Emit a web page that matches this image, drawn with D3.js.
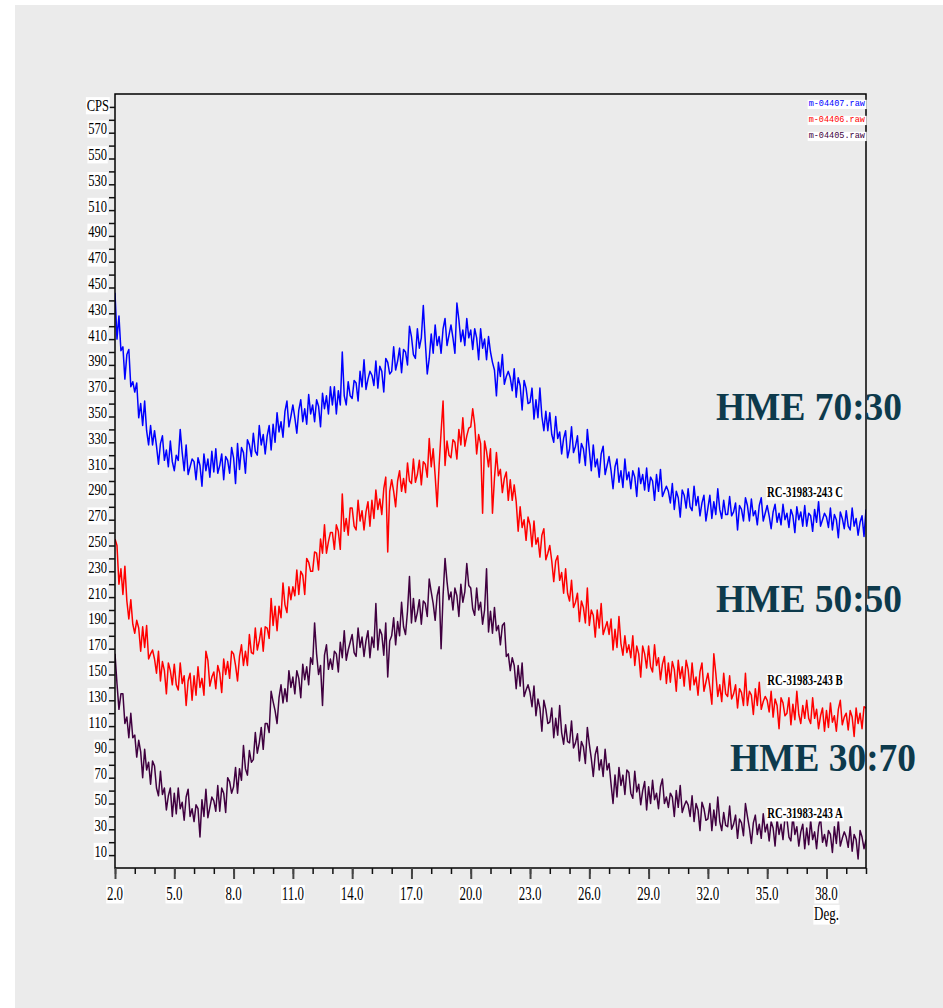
<!DOCTYPE html>
<html>
<head>
<meta charset="utf-8">
<script src="https://cdn.jsdelivr.net/npm/d3@7"></script>
<style>
  body { margin: 0; background: #fff; }
  svg { display: block; }
</style>
</head>
<body>
<svg id="chart" width="943" height="1008"></svg>
<script>

// scan: 2.0 .. 40.0 deg, 0.1 deg step
var degStart = 2.0
var degStep = 0.1

// m-04407.raw  (RC-31983-243 C)
var cpsC = [
  446,410,428,401,404,379,398,402,373,377, 369,376,349,360,343,362,339,328,343,328,
  339,327,313,329,335,316,324,311,331,315, 308,320,316,340,322,308,328,305,311,317,
  315,301,318,312,296,321,308,317,303,323, 307,325,306,312,321,301,319,316,306,326,
  318,298,329,309,326,322,306,332,328,319, 337,323,320,343,328,336,321,335,343,324,
  344,330,353,338,346,334,354,362,342,350, 359,349,337,355,363,346,356,344,367,352,
  359,346,363,358,342,368,356,366,352,373, 359,373,352,370,359,400,366,359,377,366,
  364,378,376,362,385,373,394,371,379,385, 382,374,393,372,389,385,369,395,392,383,
  385,404,386,393,403,384,402,400,390,420, 412,398,395,418,403,411,436,408,383,395,
  414,399,421,405,412,399,418,426,405,413, 421,411,399,438,425,408,417,405,426,411,
  417,402,418,411,394,418,403,410,394,412, 400,392,386,366,392,381,398,375,381,385,
  380,370,387,365,380,374,355,378,372,360, 361,372,348,363,349,372,350,339,354,339,
  353,336,330,350,333,338,321,333,339,318, 325,342,322,327,335,314,329,325,312,340,
  324,308,328,311,317,303,321,327,305,312, 319,308,294,311,317,299,308,295,317,301,
  307,294,308,303,288,310,298,305,293,310, 292,303,300,285,305,292,309,288,292,296,
  292,283,298,278,292,287,272,293,289,279, 294,280,277,296,281,288,273,283,289,269,
  279,289,271,284,274,294,278,271,285,274, 274,288,273,276,283,262,281,278,269,287,
  281,269,286,273,277,266,281,287,269,275, 281,273,263,276,282,268,275,266,282,270,
  275,264,278,273,260,280,270,276,265,281, 265,275,273,261,278,268,284,265,270,275,
  272,264,279,262,274,270,256,276,271,263, 277,265,262,279,265,271,258,268,273,257,
  278
]

// m-04406.raw  (RC-31983-243 B)
var cpsB = [
  255,250,220,232,212,234,207,193,208,189, 182,192,186,168,187,171,188,162,166,169,
  162,151,168,145,160,153,135,159,153,142, 158,142,138,159,143,149,126,145,151,130,
  149,134,156,140,147,134,168,161,141,148, 152,139,157,151,136,162,150,160,147,168,
  166,157,145,164,173,157,168,157,181,167, 166,186,169,176,186,168,187,186,178,209,
  188,203,184,203,194,221,204,198,218,208, 218,211,231,212,230,227,212,240,237,230,
  230,245,244,231,255,244,266,244,253,260, 260,247,266,261,247,290,261,271,258,279,
  279,265,262,285,269,277,262,276,284,265, 285,271,293,278,286,274,294,303,245,292,
  301,292,280,300,308,292,302,291,314,300, 298,317,299,305,316,297,315,313,303,333,
  311,325,304,280,312,338,362,312,331,320, 318,332,330,317,340,328,349,327,335,341,
  342,356,344,321,336,329,275,331,323,311, 325,275,302,322,304,309,291,302,307,285,
  301,285,297,284,261,280,264,270,254,272, 266,249,269,251,256,241,258,263,239,244,
  250,238,222,238,242,223,229,213,232,213, 207,223,202,206,213,191,207,202,190,217,
  188,200,196,179,200,186,205,181,186,191, 181,193,169,185,171,195,174,165,180,167,
  173,163,180,157,172,166,148,172,166,155, 172,156,152,173,157,163,146,158,164,143,
  159,144,160,154,137,161,147,156,141,161, 154,138,159,142,148,134,152,159,137,144,
  151,140,127,166,151,133,142,129,151,135, 133,149,131,135,142,124,139,136,126,151,
  126,137,134,119,139,126,144,123,129,133, 130,121,137,117,131,126,108,132,128,118,
  120,132,111,127,115,137,119,112,126,116, 130,116,112,132,116,123,108,118,124,106,
  122,109,128,113,118,106,123,130,111,117, 120,107,122,117,102,124,112,120,108,125,
  124
]

// m-04405.raw  (RC-31983-243 A)
var cpsA = [
  166,143,123,135,135,112,117,101,120,101, 103,86,99,90,70,92,76,82,65,83,
  79,62,56,75,57,62,45,56,62,40, 58,42,62,46,51,37,55,61,40,46,
  36,49,46,24,53,40,61,39,47,55, 52,44,64,44,62,58,43,70,67,58,
  63,78,58,77,68,95,77,72,91,82, 84,105,89,97,109,92,112,112,105,137,
  129,122,112,132,142,128,139,129,153,140, 148,135,153,147,132,158,146,156,142,163,
  158,190,166,150,157,126,165,173,154,162, 154,168,166,152,175,163,184,161,169,175,
  181,167,164,186,171,179,164,176,184,163, 179,171,205,169,185,181,165,190,148,176,
  180,194,173,191,180,206,187,181,199,226, 190,209,191,198,208,189,207,205,195,224,
  214,205,192,211,218,170,211,240,222,208, 214,200,217,211,195,220,206,214,236,219,
  217,201,196,217,200,206,189,200,232,183, 199,182,202,184,188,173,188,190,164,166,
  153,163,157,139,157,141,159,133,138,142, 136,125,141,118,131,124,106,130,123,112,
  113,124,101,116,103,126,105,96,111,98, 97,114,93,97,104,83,98,94,81,109,
  96,85,71,88,94,76,84,71,92,76, 81,65,50,72,55,78,64,72,57,76,
  74,58,54,75,59,65,49,60,67,45, 63,50,68,53,58,46,63,69,50,55,
  47,58,55,40,60,47,64,43,48,52, 49,40,56,36,50,45,29,51,46,37,
  38,50,29,45,33,55,36,29,43,33, 32,48,30,34,41,23,38,35,25,50,
  40,31,19,35,41,26,34,23,42,28, 34,21,36,31,17,38,26,34,22,39,
  38,24,21,41,26,32,17,28,34,15, 31,18,37,22,28,15,32,39,20,26,
  17,29,26,12,32,19,37,17,23,28, 24,16,32,13,26,22,7,29,24,15,
  22
]

var fileNames = ["m-04407.raw", "m-04406.raw", "m-04405.raw"]
var sampleNames = ["RC-31983-243 C", "RC-31983-243 B", "RC-31983-243 A"]
var ratioNames = ["HME 70:30", "HME 50:50", "HME 30:70"]
var seriesColors = ["#0000ff", "#ff0000", "#400040"]

var xTickLabels = ["2.0","5.0","8.0","11.0","14.0","17.0","20.0","23.0","26.0","29.0","32.0","35.0","38.0"]
var yTickLabels = [10,30,50,70,90,110,130,150,170,190,210,230,250,270,290,310,330,350,370,390,410,430,450,470,490,510,530,550,570]

var svg = d3.select("#chart")

svg.append("rect")
    .attr("x", 15).attr("y", 5)
    .attr("width", 928).attr("height", 1003)
    .attr("fill", "#ebebeb")

var x = d3.scaleLinear().domain([2, 40]).range([115, 866])
var y = d3.scaleLinear().domain([0, 600]).range([868, 94])

svg.append("clipPath").attr("id", "plotclip")
  .append("rect")
    .attr("x", x(2)).attr("y", y(600))
    .attr("width", x(40) - x(2)).attr("height", y(0) - y(600))

// label with white box behind, squeezed sideways like the original
function boxedLabel(parent, px, py, txt, opt) {
  var g = parent.append("g")
      .attr("transform", `translate(${px},${py}) scale(${opt.sx},1)`)
  var bg = g.append("rect").attr("fill", opt.bg || "#fff")
  var t = g.append("text")
      .attr("text-anchor", opt.anchor || "middle")
      .style("font-family", opt.family || "'Liberation Serif', 'Times New Roman', serif")
      .style("font-size", opt.size + "px")
      .style("font-weight", opt.weight || "normal")
      .attr("fill", opt.color || "#000")
      .text(txt)
  if (opt.bg === "none") { bg.remove(); return g }
  var b = t.node().getBBox()
  bg.attr("x", b.x - 1).attr("y", b.y + 1).attr("width", b.width + 2).attr("height", b.height - 1)
  return g
}

var series = [cpsC, cpsB, cpsA]

var line = d3.line()
    .x((d, i) => x(degStart + i * degStep))
    .y(d => y(d))

svg.append("g")
    .attr("clip-path", "url(#plotclip)")
  .selectAll("path")
  .data(series)
  .enter().append("path")
    .attr("fill", "none")
    .attr("stroke", (d, i) => seriesColors[i])
    .attr("stroke-width", 1.5)
    .attr("stroke-linejoin", "round")
    .attr("d", line)

// frame
svg.append("rect")
    .attr("x", x(2)).attr("y", y(600))
    .attr("width", x(40) - x(2)).attr("height", y(0) - y(600))
    .attr("fill", "none").attr("stroke", "#000").attr("stroke-width", 1.5)

// x axis ticks every degree, long ones every 3
var xAxisMinor = d3.axisBottom(x).tickValues(d3.range(2, 41, 1)).tickSize(6).tickFormat("")
var xAxisMajor = d3.axisBottom(x).tickValues(xTickLabels.map(Number)).tickSize(11).tickFormat("")
var gx1 = svg.append("g").attr("transform", `translate(0,${y(0)})`).call(xAxisMinor)
var gx2 = svg.append("g").attr("transform", `translate(0,${y(0)})`).call(xAxisMajor)
gx1.select(".domain").remove()
gx2.select(".domain").remove()
gx1.selectAll("line").attr("stroke", "#111").attr("stroke-width", 1.5)
gx2.selectAll("line").attr("stroke", "#444").attr("stroke-width", 2)

xTickLabels.forEach(function(s) {
  boxedLabel(svg, x(+s), 900, s, { size: 18, sx: 0.72 })
})
boxedLabel(svg, x(38) , 920, "Deg.", { size: 18, sx: 0.72 })

// y axis ticks every 10 cps
var yAxis = d3.axisLeft(y).tickValues(d3.range(10, 600, 10)).tickSize(6).tickFormat("")
var gy = svg.append("g").attr("transform", `translate(${x(2)},0)`).call(yAxis)
gy.select(".domain").remove()
gy.selectAll("line").attr("stroke", "#111").attr("stroke-width", 1.5)

yTickLabels.forEach(function(v) {
  boxedLabel(svg, 107, y(v) + 1.5, String(v), { size: 17, sx: 0.74, anchor: "end" })
})
boxedLabel(svg, 109, y(590) + 4, "CPS", { size: 17, sx: 0.74, anchor: "end" })

// legend of raw files, top right inside frame
fileNames.forEach(function(f, i) {
  boxedLabel(svg, 865, 106 + i * 16, f, {
    size: 9, sx: 0.95, anchor: "end", color: seriesColors[i],
    family: "'Liberation Mono', 'DejaVu Sans Mono', monospace"
  })
})

// sample names and ratio labels
var sampleY = [497, 685, 818]
var ratioPos = [[809, 420], [809, 612], [823, 771]]
sampleNames.forEach(function(s, i) {
  boxedLabel(svg, 805, sampleY[i], s, { size: 14.5, sx: 0.74, weight: "bold" })
})
ratioNames.forEach(function(s, i) {
  boxedLabel(svg, ratioPos[i][0], ratioPos[i][1], s, {
    size: 39, sx: 0.96, weight: "bold", color: "#0d3a4c", bg: "none"
  })
})

</script>
</body>
</html>
